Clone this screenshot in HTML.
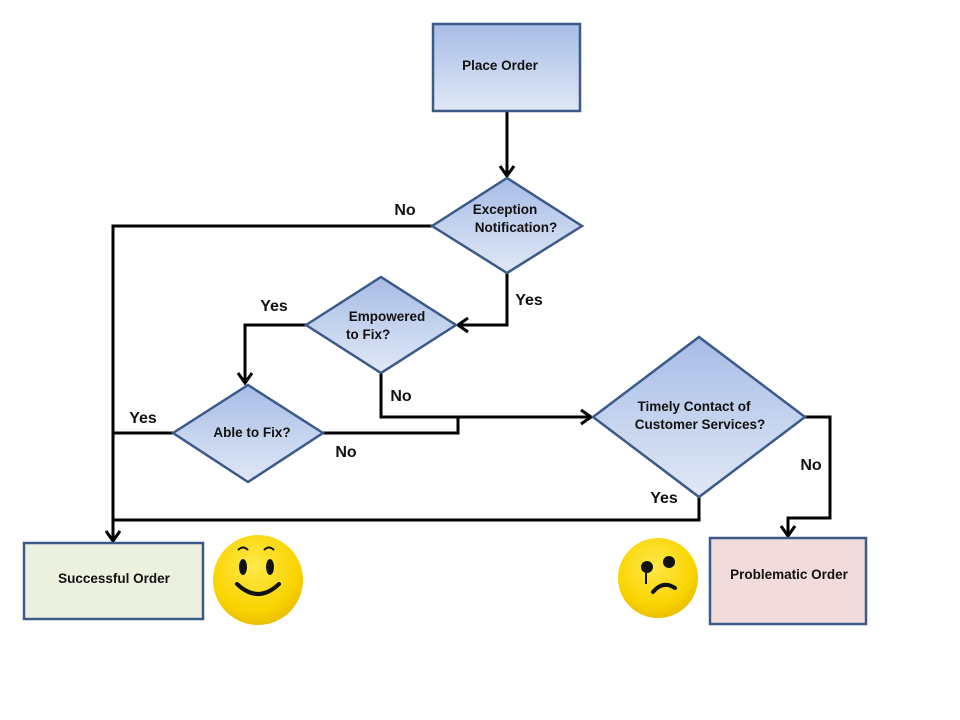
<!DOCTYPE html>
<html><head><meta charset="utf-8"><style>
html,body{margin:0;padding:0;background:#fff;}
svg{display:block;}
text{font-family:"Liberation Sans",sans-serif;font-weight:bold;fill:#111;}
</style></head><body>
<svg width="960" height="720" viewBox="0 0 960 720" xmlns="http://www.w3.org/2000/svg">
<defs>
<linearGradient id="g" x1="0" y1="0" x2="0" y2="1">
<stop offset="0" stop-color="#a7bce6"/><stop offset="1" stop-color="#e0e8f6"/>
</linearGradient>
<radialGradient id="y" cx="0.45" cy="0.35" r="0.7">
<stop offset="0" stop-color="#ffe84a"/><stop offset="0.7" stop-color="#f9d400"/><stop offset="1" stop-color="#e8b800"/>
</radialGradient>
</defs>
<rect width="960" height="720" fill="#fff"/>
<g fill="none" stroke="#000" stroke-width="3">
<path d="M507 111V176"/><path d="M500 166l7 10 7-10"/>
<path d="M432 226H113V541"/><path d="M106 531l7 10 7-10"/>
<path d="M507 273V325H458"/><path d="M468 318l-10 7 10 7"/>
<path d="M306 325H245V383"/><path d="M238 373l7 10 7-10"/>
<path d="M381 373V417H591"/><path d="M581 410l10 7-10 7"/>
<path d="M323 433H458V417"/>
<path d="M173 433H113"/>
<path d="M699 497V520H113"/>
<path d="M805 417H830V518H788V536"/><path d="M781 526l7 10 7-10"/>
</g>
<rect x="433" y="24" width="147" height="87" fill="url(#g)" stroke="#3c5a88" stroke-width="2.5"/>
<polygon points="432,226 507,178 582,226 507,273" fill="url(#g)" stroke="#3c5a88" stroke-width="2.5"/>
<polygon points="306,325 381,277 456,325 381,373" fill="url(#g)" stroke="#3c5a88" stroke-width="2.5"/>
<polygon points="173,433 248,385 323,433 248,482" fill="url(#g)" stroke="#3c5a88" stroke-width="2.5"/>
<polygon points="593,417 699,337 805,417 699,497" fill="url(#g)" stroke="#3c5a88" stroke-width="2.5"/>
<rect x="24" y="543" width="179" height="76" fill="#ebf1de" stroke="#3c5a88" stroke-width="2.5"/>
<rect x="710" y="538" width="156" height="86" fill="#f2dcdb" stroke="#3c5a88" stroke-width="2.5"/>
<g font-size="13.5">
<text x="500" y="70" text-anchor="middle">Place Order</text>
<text x="505" y="214" text-anchor="middle">Exception</text>
<text x="516" y="232" text-anchor="middle">Notification?</text>
<text x="387" y="321" text-anchor="middle">Empowered</text>
<text x="346" y="339">to Fix?</text>
<text x="252" y="437" text-anchor="middle">Able to Fix?</text>
<text x="694" y="411" text-anchor="middle">Timely Contact of</text>
<text x="700" y="429" text-anchor="middle">Customer Services?</text>
<text x="114" y="583" text-anchor="middle">Successful Order</text>
<text x="789" y="579" text-anchor="middle">Problematic Order</text>
</g>
<g font-size="16">
<text x="405" y="215" text-anchor="middle">No</text>
<text x="529" y="305" text-anchor="middle">Yes</text>
<text x="274" y="311" text-anchor="middle">Yes</text>
<text x="401" y="401" text-anchor="middle">No</text>
<text x="143" y="423" text-anchor="middle">Yes</text>
<text x="346" y="457" text-anchor="middle">No</text>
<text x="664" y="503" text-anchor="middle">Yes</text>
<text x="811" y="470" text-anchor="middle">No</text>
</g>
<circle cx="258" cy="580" r="45" fill="url(#y)"/>
<ellipse cx="243" cy="567" rx="4" ry="8" fill="#111"/><ellipse cx="270" cy="567" rx="4" ry="8" fill="#111"/>
<path d="M238 550q5-5 10 0M264 550q5-5 10 0" stroke="#111" stroke-width="2" fill="none"/>
<path d="M237 584q21 20 42 0" stroke="#111" stroke-width="4" fill="none" stroke-linecap="round"/>
<circle cx="658" cy="578" r="40" fill="url(#y)"/>
<circle cx="647" cy="567" r="6" fill="#111"/><circle cx="669" cy="562" r="6" fill="#111"/>
<path d="M646 573v11" stroke="#111" stroke-width="2"/>
<path d="M653 592q10-12 22-4" stroke="#111" stroke-width="4" fill="none" stroke-linecap="round"/>
</svg>
</body></html>
